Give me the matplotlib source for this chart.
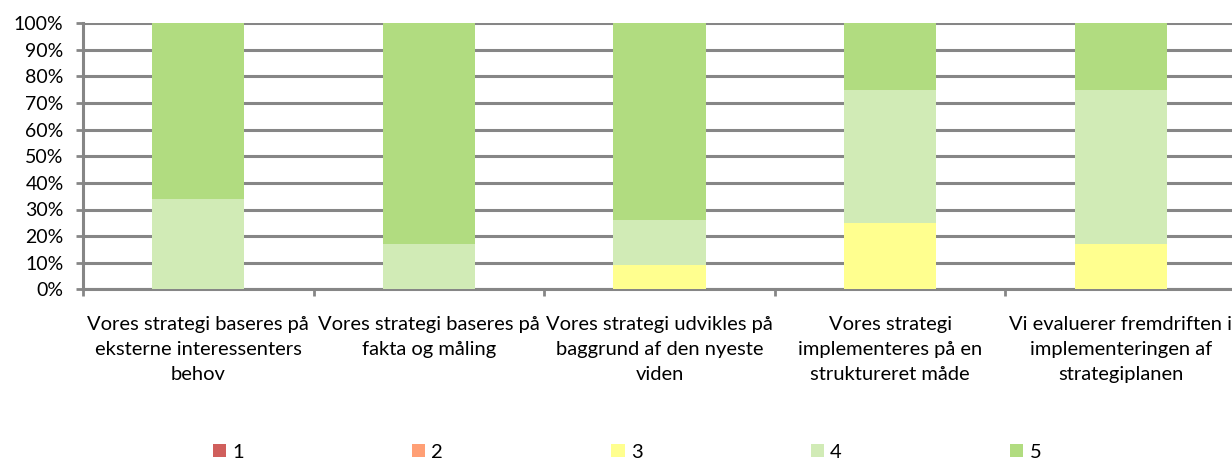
import matplotlib.pyplot as plt
import numpy as np

categories = [
    "Vores strategi baseres på\neksterne interessenters\nbehov",
    "Vores strategi baseres på\nfakta og måling",
    "Vores strategi udvikles på\nbaggrund af den nyeste\nviden",
    "Vores strategi\nimplementeres på en\nstruktureret måde",
    "Vi evaluerer fremdriften i\nimplementeringen af\nstrategiplanen",
]
series_names = ["1", "2", "3", "4", "5"]
s1 = [0, 0, 0, 0, 0]
s2 = [0, 0, 0, 0, 0]
s3 = [0, 0, 9, 25, 17]
s4 = [34, 17, 17, 50, 58]
s5 = [66, 83, 74, 25, 25]
colors = ["#d05f5c", "#ff9f75", "#ffff8f", "#d1ebb6", "#b1dc80"]

plt.rcParams['font.family'] = ['Lato', 'DejaVu Sans']

fig = plt.figure(figsize=(12.32, 4.63), dpi=100)
ax = fig.add_axes([83/1232, (463-289.3)/463, 1153/1232, 266/463])

x = np.arange(len(categories))
bottom = np.zeros(len(categories))
for name, vals, c in zip(series_names, [s1, s2, s3, s4, s5], colors):
    ax.bar(x, np.array(vals)/100, 0.4, bottom=bottom, color=c, label=name, zorder=3)
    bottom += np.array(vals)/100

ax.set_xlim(-0.5, len(categories) - 0.5)
ax.set_ylim(0, 1)
ax.set_yticks(np.arange(0, 1.01, 0.1))
ax.set_yticklabels([f"{int(round(v*100))}%" for v in np.arange(0, 1.01, 0.1)], fontsize=14)
ax.yaxis.grid(True, color="#868686", linewidth=2.2, zorder=0)
ax.set_axisbelow(True)

ax.set_xticks(x)
ax.set_xticklabels(categories, fontsize=14.5, linespacing=1.6)
ax.tick_params(axis='x', length=0, pad=19)
ax.set_xticks(np.arange(-0.5, len(categories)), minor=True)
ax.tick_params(axis='x', which='minor', length=5, width=2, color="#868686")
ax.tick_params(axis='y', length=5, width=2, color="#868686", pad=9)

for side in ['top', 'right']:
    ax.spines[side].set_visible(False)
for side in ['left', 'bottom']:
    ax.spines[side].set_color("#868686")
    ax.spines[side].set_linewidth(2.2)

fig.legend(loc='center', bbox_to_anchor=(627/1232, 1 - 452/463), ncol=5, frameon=False,
           fontsize=14.5, handlelength=0.65, handleheight=0.65, handletextpad=0.3,
           columnspacing=8.37)

fig.savefig("out.png", dpi=100)
